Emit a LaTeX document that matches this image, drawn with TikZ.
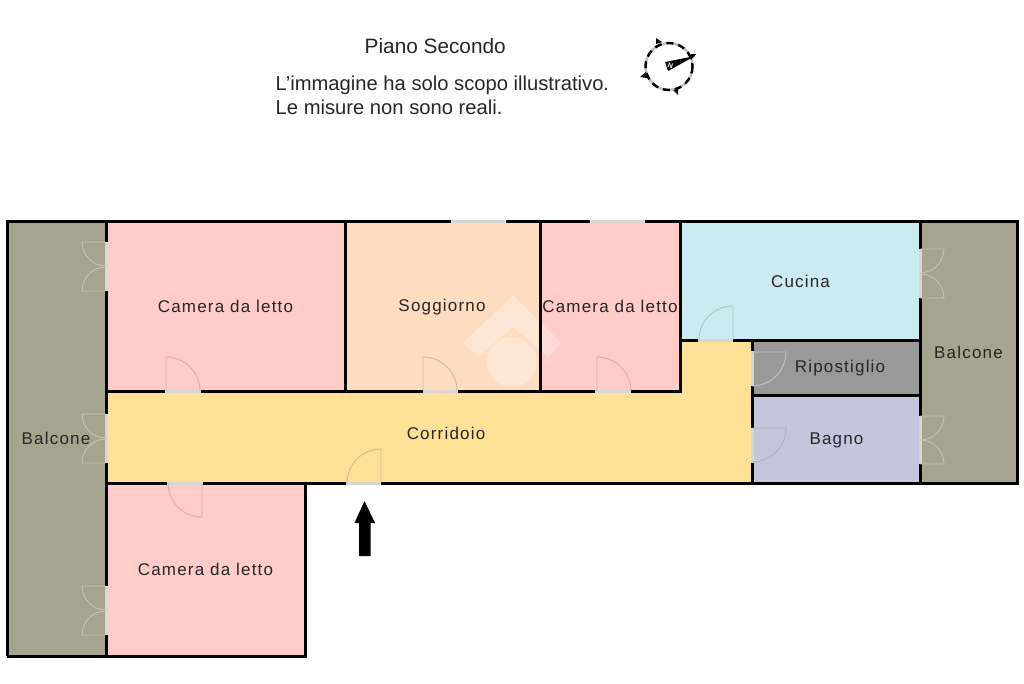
\documentclass[tikz,border=0pt]{standalone}
\usepackage{fontspec}
\setmainfont{Liberation Sans}
\newfontfamily\labfont[LetterSpace=7]{Liberation Sans}
\definecolor{pinkroom}{HTML}{FFCCC9}
\definecolor{peachroom}{HTML}{FDDCC0}
\definecolor{blueroom}{HTML}{CCEBF0}
\definecolor{greyroom}{HTML}{999999}
\definecolor{lilacroom}{HTML}{C5C5DD}
\definecolor{corridor}{HTML}{FEE196}
\definecolor{balcony}{HTML}{A4A48F}
\definecolor{doorline}{HTML}{A8A498}
\definecolor{lightleaf}{HTML}{C6C4B8}
\definecolor{gapcol}{HTML}{D9D6D2}
\definecolor{inkcol}{HTML}{2A2526}
\tikzset{
  wall/.style={line width=3pt,black,line cap=butt},
  leaf/.style={line width=.9pt,draw=doorline,draw opacity=.6},
  outleaf/.style={line width=.9pt,draw=lightleaf},
  gap/.style={line width=3pt,draw=gapcol},
  lab/.style={font=\labfont\fontsize{17}{19}\selectfont,text=inkcol,inner sep=0pt},
  head/.style={font=\fontsize{20.2}{23}\selectfont,text=inkcol,inner sep=0pt,anchor=west}
}
\begin{document}
\begin{tikzpicture}[x=1pt,y=-1pt]
\useasboundingbox (0,0) rectangle (1024,683);
\fill[white] (0,0) rectangle (1024,683);
% rooms
\fill[balcony] (7,221) rectangle (106,656);
\fill[pinkroom] (106,221) rectangle (345,391);
\fill[peachroom] (345,221) rectangle (540,391);
\fill[pinkroom] (540,221) rectangle (680,391);
\fill[blueroom] (680,221) rectangle (920,340);
\fill[greyroom] (752,340) rectangle (920,395);
\fill[lilacroom] (752,395) rectangle (920,483);
\fill[balcony] (920,221) rectangle (1017,483);
\fill[corridor] (106,391) -- (680,391) -- (680,340) -- (752,340) -- (752,483) -- (106,483) -- cycle;
\fill[pinkroom] (106,483) rectangle (305,656);
% watermark
\fill[white,opacity=.3] (513,295) -- (561,343) -- (548,357) -- (513,327) -- (478,357) -- (463,343) -- cycle;
\fill[white,opacity=.3] (512,362) circle (25);
% walls
\draw[wall] (423,391) -- (345,391) (345,221) -- (345,391);
\draw[wall] (540,221) -- (540,391);
\draw[wall] (7,656) -- (7,221) -- (451,221);
\draw[wall] (506,221) -- (590,221);
\draw[wall] (645,221) -- (1017,221) -- (1017,483) -- (381,483);
\draw[wall] (346,483) -- (203,483);
\draw[wall] (167,483) -- (106,483);
\draw[wall] (305,483) -- (305,656) -- (7,656);
\draw[wall] (106,221) -- (106,242) (106,291) -- (106,414) (106,463) -- (106,586) (106,635) -- (106,656);
\draw[wall] (106,391) -- (165,391) (201,391) -- (345,391) (458,391) -- (595,391) (631,391) -- (680,391) -- (680,221);
\draw[wall] (680,340) -- (698,340) (733,340) -- (920,340);
\draw[wall] (752,340) -- (752,351) (752,386) -- (752,428) (752,463) -- (752,483);
\draw[wall] (752,395) -- (920,395);
\draw[wall] (920,221) -- (920,249) (920,298) -- (920,416) (920,464) -- (920,483);
% openings
\draw[gap] (451,221) -- (506,221) (590,221) -- (645,221);
\draw[gap] (106,242) -- (106,291) (106,414) -- (106,463) (106,586) -- (106,635);
\draw[gap] (165,391) -- (201,391) (423,391) -- (458,391) (595,391) -- (631,391);
\draw[gap] (167,483) -- (203,483) (346,483) -- (381,483);
\draw[gap] (698,340) -- (733,340);
\draw[gap] (752,351) -- (752,386) (752,428) -- (752,463);
\draw[gap] (920,249) -- (920,298) (920,416) -- (920,464);
% door leaves
\draw[outleaf] (106,242) -- (82,242) arc[start angle=180,end angle=90,radius=24];
\draw[outleaf] (106,291) -- (82,291) arc[start angle=180,end angle=270,radius=24];
\draw[outleaf] (106,414) -- (82,414) arc[start angle=180,end angle=90,radius=24];
\draw[outleaf] (106,463) -- (82,463) arc[start angle=180,end angle=270,radius=24];
\draw[outleaf] (106,586) -- (82,586) arc[start angle=180,end angle=90,radius=24];
\draw[outleaf] (106,635) -- (82,635) arc[start angle=180,end angle=270,radius=24];
\draw[outleaf] (920,249) -- (944,249) arc[start angle=0,end angle=90,radius=24];
\draw[outleaf] (920,298) -- (944,298) arc[start angle=0,end angle=-90,radius=24];
\draw[outleaf] (920,416) -- (944,416) arc[start angle=0,end angle=90,radius=24];
\draw[outleaf] (920,464) -- (944,464) arc[start angle=0,end angle=-90,radius=24];
\draw[leaf] (166,391) -- (166,357) arc[start angle=-90,end angle=0,radius=34];
\draw[leaf] (423,391) -- (423,357) arc[start angle=-90,end angle=0,radius=34];
\draw[leaf] (597,391) -- (597,357) arc[start angle=-90,end angle=0,radius=34];
\draw[leaf] (733,340) -- (733,306) arc[start angle=-90,end angle=-180,radius=34];
\draw[outleaf] (752,352) -- (786,352) arc[start angle=0,end angle=90,radius=34];
\draw[leaf] (752,428) -- (786,428) arc[start angle=0,end angle=90,radius=34];
\draw[leaf] (202,483) -- (202,517) arc[start angle=90,end angle=180,radius=34];
\draw[leaf] (381,483) -- (381,449) arc[start angle=-90,end angle=-180,radius=34];
% entrance arrow
\fill[black] (364.5,501) -- (375,523) -- (370.5,523) -- (370.5,556) -- (359,556) -- (359,523) -- (354.5,523) -- cycle;
% compass
\draw[line width=2.4pt,black!25] (669,66.5) circle (23.5);
\draw[line width=2.4pt,black,dash pattern=on 7pt off 5pt] (669,66.5) circle (23.5);
\fill[black] (695,56) -- (665,62) -- (668,71) -- cycle;
\fill[black] (656,44) -- (662,42) -- (656,38) -- cycle;
\fill[black] (646,72) -- (647,78) -- (640,77) -- cycle;
\fill[black] (673,90) -- (678,89) -- (678,95) -- cycle;
\fill[black] (691,60) -- (691,54) -- (696,54) -- cycle;
\node[font=\bfseries\fontsize{7}{7}\selectfont,text=white,inner sep=0pt,rotate=-15] (northmark) at (670.5,65.5) {N};
% texts
\node[head,font=\fontsize{20.8}{23}\selectfont] (title) at (364.5,46.5) {Piano Secondo};
\node[head] (noteone) at (275.5,85.5) {L\symbol{39}immagine ha solo scopo illustrativo.};
\node[head] (notetwo) at (275.5,107) {Le misure non sono reali.};
\node[lab] (r1) at (225.5,306.5) {Camera da letto};
\node[lab] (r2) at (442,307.5) {Soggiorno};
\node[lab] (r3) at (610,306.5) {Camera da letto};
\node[lab] (r4) at (800.5,281) {Cucina};
\node[lab] (r5) at (840,368.5) {Ripostiglio};
\node[lab] (r6) at (836.5,440.5) {Bagno};
\node[lab] (r7) at (968.5,352) {Balcone};
\node[lab] (r8) at (56,438.5) {Balcone};
\node[lab] (r9) at (446,433) {Corridoio};
\node[lab] (r10) at (205.5,569.5) {Camera da letto};
\end{tikzpicture}
\end{document}
